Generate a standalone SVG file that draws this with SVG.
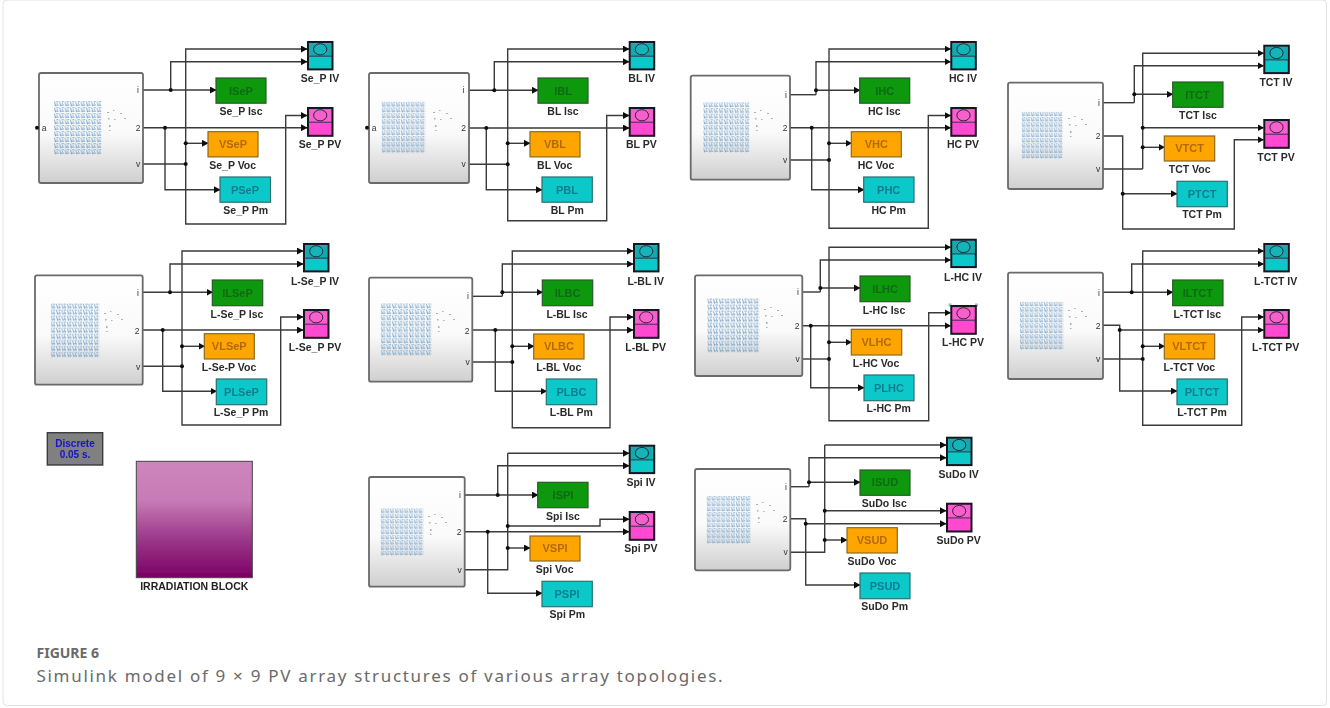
<svg xmlns="http://www.w3.org/2000/svg" width="1330" height="708" viewBox="0 0 1330 708">
<style>
text{font-family:"Liberation Sans",Arial,sans-serif}
.lb{font-size:10.500px;font-weight:700;fill:#2a2a2a;text-anchor:middle}
.bt{font-size:11px;text-anchor:middle;font-weight:700}
.pt{font-size:8.500px;fill:#333;text-anchor:middle}
.main{fill:url(#mainGrad);stroke:#6a6a6a;stroke-width:1.800}
.grid{fill:url(#gridPat)}
.i{fill:#0a980a;stroke:#2a5a2a;stroke-width:1.200}
.v{fill:#ffa500;stroke:#8a6a20;stroke-width:1.200}
.p{fill:#10c8c8;stroke:#2a7070;stroke-width:1.200}
.it{fill:#0b6a14}.vt{fill:#b06a10}.pt2{fill:#0f7d90}
.w{fill:none;stroke:#3a3a3a;stroke-width:1.400}
.a{marker-end:url(#arr)}
.d{fill:#111}
.sc{stroke:#15151f;stroke-width:2}
.sl{fill:none;stroke:#2a2a3a;stroke-width:.9}
.cap{font-family:"Noto Sans","Open Sans",sans-serif;fill:#6a6a6a}
</style>
<defs>
<linearGradient id="mainGrad" x1="0" y1="0" x2="0" y2="1"><stop offset="0" stop-color="#fff"/><stop offset=".55" stop-color="#fafafa"/><stop offset="1" stop-color="#cfcfcf"/></linearGradient>
<linearGradient id="irr" x1="0" y1="0" x2="0" y2="1"><stop offset="0" stop-color="#ce84bc"/><stop offset=".33" stop-color="#c87cb6"/><stop offset=".66" stop-color="#9c3a8a"/><stop offset="1" stop-color="#7c0066"/></linearGradient>
<pattern id="gridPat" patternUnits="objectBoundingBox" width=".1111" height=".1111" patternContentUnits="objectBoundingBox">
<path d="M.01 .01 L.03 .1 M.045 .015 L.095 .015 M.06 .04 L.09 .09 M.015 .075 L.07 .08" fill="none" stroke="#6d9ac2" stroke-width=".016"/>
</pattern>
<g id="sparse" fill="#a8b0b8"><rect x="0" y="0" width="2" height="1"/><rect x="6" y="-2" width="1.500" height="1"/><rect x="13" y="1" width="2" height="1"/><rect x="1" y="6" width="1.500" height="1.500"/><rect x="7" y="7" width="1.500" height="1"/><rect x="17" y="6" width="2" height="1"/><rect x="2" y="13" width="1.500" height="2"/><rect x="2" y="18" width="1.500" height="1"/></g>
<g id="scIV"><rect x="1" y="1" width="24.500" height="27.400" fill="#10c8c8" class="sc"/><rect x="2.500" y="2.500" width="21.400" height="12.500" fill="#12a8ac"/><path class="sl" d="M1 15.200H25.500"/><ellipse cx="13.200" cy="8.300" rx="6.600" ry="5.600" fill="#12b4b8" stroke="#1c2c3a" stroke-width="1"/></g>
<g id="scPV"><rect x="1" y="1" width="24.500" height="27.800" fill="#ff48d0" class="sc"/><rect x="2.500" y="2.500" width="21.400" height="12.500" fill="#f660cc"/><path class="sl" d="M1 15.200H25.500"/><ellipse cx="13.200" cy="8.300" rx="6.600" ry="5.600" fill="#f660cc" stroke="#3a1c3a" stroke-width="1"/></g>
<marker id="arr" markerUnits="userSpaceOnUse" markerWidth="7" markerHeight="7" refX="6" refY="3.500" orient="auto"><path d="M0 0L6.500 3.500L0 7Z" fill="#111"/></marker>
<filter id="soft" filterUnits="userSpaceOnUse" x="0" y="0" width="1330" height="708"><feGaussianBlur stdDeviation=".45"/></filter>
</defs>
<rect width="1330" height="708" fill="#fff"/>
<rect id="frame" x="3" y="0" width="1323.500" height="705.500" rx="4" fill="none" stroke="#e2e2e2" stroke-width="1"/>
<g filter="url(#soft)">
<g id="connectors">
<!-- Se_P -->
<path class="w a" d="M143 90H216"/><path class="w a" d="M170.700 90V61.700H307"/><path class="w" d="M143 164H185.700"/><path class="w a" d="M185.700 164V49H307"/><path class="w a" d="M185.700 164V224H285.700V115.500H307"/><path class="w a" d="M185.700 143.300H208"/><path class="w a" d="M143 127.700H307"/><path class="w a" d="M165 127.700V189.700H220"/>
<circle class="d" cx="170.700" cy="90" r="2"/><circle class="d" cx="165" cy="127.700" r="2"/><circle class="d" cx="185.700" cy="143.300" r="2"/><circle class="d" cx="185.700" cy="164" r="2"/>
<!-- BL -->
<path class="w a" d="M469 90.300H538"/><path class="w a" d="M494.300 90.300V61.700H629"/><path class="w" d="M469 164.300H507.700"/><path class="w a" d="M507.700 164.300V49H629"/><path class="w a" d="M507.700 164.300V220.700H606.700V115.500H629"/><path class="w a" d="M507.700 143.300H530"/><path class="w a" d="M469 128H629"/><path class="w a" d="M486.300 128V189.700H542"/>
<circle class="d" cx="494.300" cy="90.300" r="2"/><circle class="d" cx="486.300" cy="128" r="2"/><circle class="d" cx="507.700" cy="143.300" r="2"/><circle class="d" cx="507.700" cy="164.300" r="2"/>
<!-- HC -->
<path class="w" d="M790 94.700H816"/><path class="w a" d="M816 90.300H860"/><path class="w a" d="M816 94.700V61.700H950.500"/><path class="w" d="M790 160H829"/><path class="w a" d="M829 160V49H950.500"/><path class="w a" d="M829 160V228.300H928.300V115.500H950.500"/><path class="w a" d="M829 143.300H851.500"/><path class="w a" d="M790 127.700H950.500"/><path class="w a" d="M811.700 127.700V189.700H864"/>
<circle class="d" cx="816" cy="90.300" r="2"/><circle class="d" cx="811.700" cy="127.700" r="2"/><circle class="d" cx="829" cy="143.300" r="2"/><circle class="d" cx="829" cy="160" r="2"/>
<!-- TCT -->
<path class="w" d="M1103 102.700H1134.300"/><path class="w a" d="M1134.300 94.300H1172.700"/><path class="w a" d="M1134.300 102.700V65.700H1263.500"/><path class="w" d="M1103 169H1142.700"/><path class="w a" d="M1142.700 169V53.300H1263.500"/><path class="w a" d="M1142.700 127.700H1263.500"/><path class="w a" d="M1142.700 147.300H1164.500"/><path class="w a" d="M1103 136H1122.700V229H1234.300V139.700H1263.500"/><path class="w a" d="M1122.700 193.700H1177"/>
<circle class="d" cx="1134.300" cy="94.300" r="2"/><circle class="d" cx="1142.700" cy="127.700" r="2"/><circle class="d" cx="1142.700" cy="147.300" r="2"/><circle class="d" cx="1122.700" cy="193.700" r="2"/>
<!-- L-Se_P -->
<path class="w a" d="M143 292.300H212.500"/><path class="w a" d="M170 292.300V264H303"/><path class="w" d="M143 366.300H182"/><path class="w a" d="M182 366.300V251H303"/><path class="w a" d="M182 366.300V425H280.700V317H303"/><path class="w a" d="M182 346.300H204.500"/><path class="w a" d="M143 330H303"/><path class="w a" d="M162.700 330V391.300H216.500"/>
<circle class="d" cx="170" cy="292.300" r="2"/><circle class="d" cx="162.700" cy="330" r="2"/><circle class="d" cx="182" cy="346.300" r="2"/><circle class="d" cx="182" cy="366.300" r="2"/>
<!-- L-BL -->
<path class="w" d="M472.300 296.300H502.300"/><path class="w a" d="M502.300 292.300H542.500"/><path class="w a" d="M502.300 296.300V264H633"/><path class="w" d="M472.300 362H512.300"/><path class="w a" d="M512.300 362V251H633"/><path class="w a" d="M512.300 362V427.700H610V317H633"/><path class="w a" d="M512.300 346.300H534"/><path class="w a" d="M472.300 330H633"/><path class="w a" d="M495.300 330V391.300H546.500"/>
<circle class="d" cx="502.300" cy="292.300" r="2"/><circle class="d" cx="495.300" cy="330" r="2"/><circle class="d" cx="512.300" cy="346.300" r="2"/><circle class="d" cx="512.300" cy="362" r="2"/>
<!-- L-HC -->
<path class="w" d="M802.300 292H820.300"/><path class="w a" d="M820.300 288H860"/><path class="w a" d="M820.300 292V260H950.500"/><path class="w" d="M802.300 359H829"/><path class="w a" d="M829 359V247.300H950.500"/><path class="w a" d="M829 359V420.700H928.700V312.700H950.500"/><path class="w a" d="M829 342.300H851.500"/><path class="w a" d="M802.300 325.700H950.500"/><path class="w a" d="M810.700 325.700V387.700H864"/>
<circle class="d" cx="820.300" cy="288" r="2"/><circle class="d" cx="810.700" cy="325.700" r="2"/><circle class="d" cx="829" cy="342.300" r="2"/><circle class="d" cx="829" cy="359" r="2"/>
<!-- L-TCT -->
<path class="w a" d="M1103 292.300H1172.700"/><path class="w a" d="M1131.700 292.300V264H1263.500"/><path class="w" d="M1103 359H1142.700"/><path class="w a" d="M1142.700 359V251H1263.500"/><path class="w a" d="M1142.700 359V425.300H1241.700V317H1263.500"/><path class="w a" d="M1142.700 346.300H1164.500"/><path class="w a" d="M1103 325.300H1119.700V391H1177"/><path class="w a" d="M1119.700 330H1263.500"/>
<circle class="d" cx="1131.700" cy="292.300" r="2"/><circle class="d" cx="1119.700" cy="330" r="2"/><circle class="d" cx="1142.700" cy="346.300" r="2"/><circle class="d" cx="1142.700" cy="359" r="2"/>
<!-- Spi -->
<path class="w a" d="M464.700 495H538"/><path class="w a" d="M497.700 495V465.700H629"/><path class="w" d="M464.700 569.700H507.700V453.300"/><path class="w a" d="M507.700 453.300H629"/><path class="w a" d="M507.700 526H600V519.300H629"/><path class="w a" d="M507.700 548H530"/><path class="w a" d="M464.700 531.700H629"/><path class="w a" d="M487.700 531.700V593.300H542"/>
<circle class="d" cx="497.700" cy="495" r="2"/><circle class="d" cx="487.700" cy="531.700" r="2"/><circle class="d" cx="507.700" cy="526" r="2"/><circle class="d" cx="507.700" cy="548" r="2"/>
<!-- SuDo -->
<path class="w" d="M790.300 486.700H809"/><path class="w a" d="M809 482.300H860"/><path class="w a" d="M809 486.700V457.700H946"/><path class="w" d="M790.300 552.300H824.700V445"/><path class="w a" d="M824.700 445H946"/><path class="w a" d="M824.700 510.700H946"/><path class="w a" d="M824.700 540H847"/><path class="w a" d="M790.300 518.700H805.700V585H860"/><path class="w a" d="M805.700 523.700H946"/>
<circle class="d" cx="809" cy="482.300" r="2"/><circle class="d" cx="805.700" cy="523.700" r="2"/><circle class="d" cx="824.700" cy="510.700" r="2"/><circle class="d" cx="824.700" cy="540" r="2"/>
</g>

<!-- Se_P nodes -->
<g id="sep-array"><rect class="main" x="39" y="73" width="104" height="110" rx="2"/><rect class="grid" x="54" y="101" width="48" height="54"/><use href="#sparse" x="107" y="112"/><circle class="d" cx="37" cy="127.700" r="2"/><text class="pt" x="44" y="130.500">a</text><text class="pt" x="138" y="93">i</text><text class="pt" x="138" y="131">2</text><text class="pt" x="138" y="167">v</text></g>
<g id="sep-isc"><rect class="i" x="216" y="78" width="50" height="25.200"/><text class="bt it" x="241" y="94.500">ISeP</text><text class="lb" x="241" y="115.200">Se_P Isc</text></g>
<g id="sep-voc"><rect class="v" x="208" y="131.700" width="50" height="25.200"/><text class="bt vt" x="233" y="148">VSeP</text><text class="lb" x="232.700" y="168.800">Se_P Voc</text></g>
<g id="sep-pm"><rect class="p" x="220" y="177" width="50.500" height="25.200"/><text class="bt pt2" x="245" y="193.500">PSeP</text><text class="lb" x="245.700" y="213.800">Se_P Pm</text></g>
<g id="sep-iv"><use href="#scIV" x="307" y="41"/><text class="lb" x="320" y="82.200">Se_P IV</text></g>
<g id="sep-pv"><use href="#scPV" x="307" y="107"/><text class="lb" x="320" y="147.800">Se_P PV</text></g>

<!-- BL nodes -->
<g id="bl-array"><rect class="main" x="369" y="73" width="100" height="110" rx="2"/><rect class="grid" x="381.700" y="101.700" width="43.500" height="51.500"/><use href="#sparse" x="433" y="112"/><circle class="d" cx="367" cy="127.700" r="2"/><text class="pt" x="374" y="130.500">a</text><text class="pt" x="463.500" y="93">i</text><text class="pt" x="463.500" y="131">2</text><text class="pt" x="463.500" y="167">v</text></g>
<g id="bl-isc"><rect class="i" x="538" y="78" width="50" height="25.200"/><text class="bt it" x="563" y="94.500">IBL</text><text class="lb" x="563" y="115.200">BL Isc</text></g>
<g id="bl-voc"><rect class="v" x="530" y="131.700" width="50" height="25.200"/><text class="bt vt" x="555" y="148">VBL</text><text class="lb" x="554.700" y="168.800">BL Voc</text></g>
<g id="bl-pm"><rect class="p" x="542" y="177" width="50.300" height="25.200"/><text class="bt pt2" x="567" y="193.500">PBL</text><text class="lb" x="567.300" y="213.800">BL Pm</text></g>
<g id="bl-iv"><use href="#scIV" x="628.700" y="41"/><text class="lb" x="641.700" y="81.500">BL IV</text></g>
<g id="bl-pv"><use href="#scPV" x="628.700" y="107"/><text class="lb" x="641.300" y="147.800">BL PV</text></g>

<!-- HC nodes -->
<g id="hc-array"><rect class="main" x="690.700" y="75.700" width="99.300" height="104" rx="2"/><rect class="grid" x="703.300" y="102.300" width="46.700" height="50.700"/><use href="#sparse" x="754" y="112"/><text class="pt" x="786" y="97.500">i</text><text class="pt" x="785" y="131">2</text><text class="pt" x="785" y="163">v</text></g>
<g id="hc-isc"><rect class="i" x="859.700" y="78" width="50" height="25.200"/><text class="bt it" x="884.700" y="94.500">IHC</text><text class="lb" x="884.300" y="115.200">HC Isc</text></g>
<g id="hc-voc"><rect class="v" x="851.300" y="131.700" width="50" height="25.200"/><text class="bt vt" x="876.300" y="148">VHC</text><text class="lb" x="876" y="168.800">HC Voc</text></g>
<g id="hc-pm"><rect class="p" x="863.700" y="177" width="50.300" height="25.200"/><text class="bt pt2" x="888.700" y="193.500">PHC</text><text class="lb" x="888.700" y="213.800">HC Pm</text></g>
<g id="hc-iv"><use href="#scIV" x="950.300" y="41"/><text class="lb" x="963" y="81.500">HC IV</text></g>
<g id="hc-pv"><use href="#scPV" x="950.300" y="107"/><text class="lb" x="963" y="147.800">HC PV</text></g>

<!-- TCT nodes -->
<g id="tct-array"><rect class="main" x="1008" y="82.700" width="95" height="106.300" rx="2"/><rect class="grid" x="1021.700" y="111.700" width="41.300" height="47.300"/><use href="#sparse" x="1068" y="118"/><text class="pt" x="1099" y="105.500">i</text><text class="pt" x="1098" y="139">2</text><text class="pt" x="1098" y="172">v</text></g>
<g id="tct-isc"><rect class="i" x="1172.700" y="82" width="50.300" height="25.300"/><text class="bt it" x="1197.500" y="98.500">ITCT</text><text class="lb" x="1198" y="118.800">TCT Isc</text></g>
<g id="tct-voc"><rect class="v" x="1164.300" y="136" width="50.400" height="25"/><text class="bt vt" x="1189.500" y="152.300">VTCT</text><text class="lb" x="1189.700" y="172.800">TCT Voc</text></g>
<g id="tct-pm"><rect class="p" x="1177" y="181.300" width="50.300" height="25.400"/><text class="bt pt2" x="1202" y="197.800">PTCT</text><text class="lb" x="1202" y="217.800">TCT Pm</text></g>
<g id="tct-iv"><use href="#scIV" x="1263.300" y="44.700"/><text class="lb" x="1276" y="86.200">TCT IV</text></g>
<g id="tct-pv"><use href="#scPV" x="1263.300" y="119"/><text class="lb" x="1276" y="160.500">TCT PV</text></g>

<!-- L-Se_P nodes -->
<g id="lsep-array"><rect class="main" x="35" y="275.300" width="107.700" height="109.400" rx="2"/><rect class="grid" x="50.700" y="303.300" width="48.600" height="54.400"/><use href="#sparse" x="104" y="313"/><text class="pt" x="138" y="295.500">i</text><text class="pt" x="137" y="333.500">2</text><text class="pt" x="138" y="369.500">v</text></g>
<g id="lsep-isc"><rect class="i" x="212.300" y="280" width="50.400" height="25.700"/><text class="bt it" x="237.500" y="296.800">ILSeP</text><text class="lb" x="237" y="317.500">L-Se_P Isc</text></g>
<g id="lsep-voc"><rect class="v" x="204.300" y="333.700" width="50" height="25.300"/><text class="bt vt" x="229.300" y="350.200">VLSeP</text><text class="lb" x="229" y="371.200">L-Se-P Voc</text></g>
<g id="lsep-pm"><rect class="p" x="216.300" y="379" width="50.400" height="25.700"/><text class="bt pt2" x="241.500" y="395.800">PLSeP</text><text class="lb" x="241" y="416.200">L-Se_P Pm</text></g>
<g id="lsep-iv"><use href="#scIV" x="303" y="243"/><text class="lb" x="315" y="284.500">L-Se_P IV</text></g>
<g id="lsep-pv"><use href="#scPV" x="303" y="309"/><text class="lb" x="315" y="351.200">L-Se_P PV</text></g>

<!-- L-BL nodes -->
<g id="lbl-array"><rect class="main" x="369" y="277.700" width="103.300" height="104" rx="2"/><rect class="grid" x="380.700" y="303.300" width="51" height="52.400"/><use href="#sparse" x="436" y="313"/><text class="pt" x="468" y="299">i</text><text class="pt" x="467" y="333.500">2</text><text class="pt" x="467.500" y="365">v</text></g>
<g id="lbl-isc"><rect class="i" x="542.300" y="280" width="50.400" height="25.700"/><text class="bt it" x="567.500" y="296.800">ILBC</text><text class="lb" x="567" y="317.500">L-BL Isc</text></g>
<g id="lbl-voc"><rect class="v" x="533.700" y="334" width="50.300" height="25"/><text class="bt vt" x="559" y="350.200">VLBC</text><text class="lb" x="558.700" y="371.200">L-BL Voc</text></g>
<g id="lbl-pm"><rect class="p" x="546.300" y="379" width="50.400" height="25.700"/><text class="bt pt2" x="571.500" y="395.800">PLBC</text><text class="lb" x="571.300" y="416.200">L-BL Pm</text></g>
<g id="lbl-iv"><use href="#scIV" x="633" y="243"/><text class="lb" x="645.700" y="284.500">L-BL IV</text></g>
<g id="lbl-pv"><use href="#scPV" x="633" y="309"/><text class="lb" x="645.700" y="351.200">L-BL PV</text></g>

<!-- L-HC nodes -->
<g id="lhc-array"><rect class="main" x="695" y="275.300" width="107.300" height="100.700" rx="2"/><rect class="grid" x="707.300" y="298.300" width="52" height="54.400"/><use href="#sparse" x="764" y="309"/><text class="pt" x="798" y="295">i</text><text class="pt" x="797" y="329">2</text><text class="pt" x="797.500" y="362">v</text></g>
<g id="lhc-isc"><rect class="i" x="860" y="276" width="50" height="25.700"/><text class="bt it" x="885" y="292.800">ILHC</text><text class="lb" x="884" y="313.500">L-HC Isc</text></g>
<g id="lhc-voc"><rect class="v" x="851.300" y="329.300" width="50.400" height="25.700"/><text class="bt vt" x="876.500" y="346">VLHC</text><text class="lb" x="876" y="366.800">L-HC Voc</text></g>
<g id="lhc-pm"><rect class="p" x="864" y="375" width="50" height="25.700"/><text class="bt pt2" x="889" y="391.800">PLHC</text><text class="lb" x="888.700" y="412.200">L-HC Pm</text></g>
<g id="lhc-iv"><use href="#scIV" x="950.300" y="238.700"/><text class="lb" x="963" y="280.500">L-HC IV</text></g>
<g id="lhc-pv"><g fill="#b5b5b5"><rect x="948.500" y="303.500" width="3" height="3"/><rect x="975" y="303.500" width="3" height="3"/></g><use href="#scPV" x="950.300" y="305"/><text class="lb" x="963" y="346.200">L-HC PV</text></g>

<!-- L-TCT nodes -->
<g id="ltct-array"><rect class="main" x="1008" y="272.700" width="95" height="106.300" rx="2"/><rect class="grid" x="1020" y="301.700" width="43.300" height="48.300"/><use href="#sparse" x="1068" y="310"/><text class="pt" x="1099" y="295.500">i</text><text class="pt" x="1098" y="328.500">2</text><text class="pt" x="1098" y="362">v</text></g>
<g id="ltct-isc"><rect class="i" x="1172.700" y="280" width="50.300" height="25.700"/><text class="bt it" x="1197.800" y="296.800">ILTCT</text><text class="lb" x="1197.300" y="317.500">L-TCT Isc</text></g>
<g id="ltct-voc"><rect class="v" x="1164.300" y="334" width="50.400" height="25"/><text class="bt vt" x="1189.500" y="350.200">VLTCT</text><text class="lb" x="1189.300" y="371.200">L-TCT Voc</text></g>
<g id="ltct-pm"><rect class="p" x="1177" y="379" width="50.300" height="25.700"/><text class="bt pt2" x="1202" y="395.800">PLTCT</text><text class="lb" x="1202" y="416.200">L-TCT Pm</text></g>
<g id="ltct-iv"><use href="#scIV" x="1263.300" y="243"/><text class="lb" x="1275.700" y="284.500">L-TCT IV</text></g>
<g id="ltct-pv"><use href="#scPV" x="1263.300" y="309"/><text class="lb" x="1275.700" y="351.200">L-TCT PV</text></g>

<!-- Spi nodes -->
<g id="spi-array"><rect class="main" x="369" y="477" width="95.700" height="109.700" rx="2"/><rect class="grid" x="380.700" y="508.300" width="42.600" height="47.700"/><use href="#sparse" x="428" y="516"/><text class="pt" x="460" y="498">i</text><text class="pt" x="459" y="535">2</text><text class="pt" x="459.500" y="572.700">v</text></g>
<g id="spi-isc"><rect class="i" x="537.700" y="482.300" width="50.300" height="25.400"/><text class="bt it" x="563" y="498.800">ISPI</text><text class="lb" x="563" y="519.500">Spi Isc</text></g>
<g id="spi-voc"><rect class="v" x="530" y="536" width="50" height="25"/><text class="bt vt" x="555" y="552.300">VSPI</text><text class="lb" x="554.700" y="573.200">Spi Voc</text></g>
<g id="spi-pm"><rect class="p" x="542" y="581.300" width="50.300" height="25.400"/><text class="bt pt2" x="567" y="597.800">PSPI</text><text class="lb" x="567.300" y="617.800">Spi Pm</text></g>
<g id="spi-iv"><use href="#scIV" x="628.700" y="444.700"/><text class="lb" x="641" y="486.200">Spi IV</text></g>
<g id="spi-pv"><use href="#scPV" x="628.700" y="511"/><text class="lb" x="641" y="551.800">Spi PV</text></g>

<!-- SuDo nodes -->
<g id="sudo-array"><rect class="main" x="695" y="469" width="95.300" height="101.300" rx="2"/><rect class="grid" x="706.700" y="496" width="44" height="48"/><use href="#sparse" x="756" y="504"/><text class="pt" x="786" y="489.500">i</text><text class="pt" x="785" y="522">2</text><text class="pt" x="785.500" y="555.300">v</text></g>
<g id="sudo-isc"><rect class="i" x="860" y="470" width="50" height="25.300"/><text class="bt it" x="885" y="486.400">ISUD</text><text class="lb" x="884.300" y="507.200">SuDo Isc</text></g>
<g id="sudo-voc"><rect class="v" x="847" y="527.700" width="50.300" height="25.300"/><text class="bt vt" x="872" y="544.200">VSUD</text><text class="lb" x="872" y="564.800">SuDo Voc</text></g>
<g id="sudo-pm"><rect class="p" x="860" y="573" width="50" height="25.700"/><text class="bt pt2" x="885" y="589.800">PSUD</text><text class="lb" x="884.700" y="609.500">SuDo Pm</text></g>
<g id="sudo-iv"><use href="#scIV" x="946" y="436.700"/><text class="lb" x="958.700" y="477.800">SuDo IV</text></g>
<g id="sudo-pv"><use href="#scPV" x="946" y="502.700"/><text class="lb" x="958.700" y="543.800">SuDo PV</text></g>

<g id="discrete"><rect x="47.300" y="432.700" width="55.400" height="32.300" fill="#808080" stroke="#3c3c3c" stroke-width="1.400"/><text x="75" y="446.500" font-size="10" font-weight="700" fill="#1414c8" text-anchor="middle">Discrete</text><text x="75" y="458" font-size="10" font-weight="700" fill="#1414c8" text-anchor="middle">0.05 s.</text></g>
<g id="irradiation"><rect x="136.300" y="461.300" width="116" height="116.400" fill="url(#irr)" stroke="#444" stroke-width="1"/><text x="194.300" y="589.600" font-size="10.500" font-weight="700" fill="#222" text-anchor="middle">IRRADIATION BLOCK</text></g>
</g>
<g id="caption">
<text class="cap" x="36.500" y="658" font-size="14" font-weight="700">FIGURE 6</text>
<text class="cap" x="36.500" y="682" font-size="17" letter-spacing="1.700">Simulink model of 9 × 9 PV array structures of various array topologies.</text>
</g>
</svg>
